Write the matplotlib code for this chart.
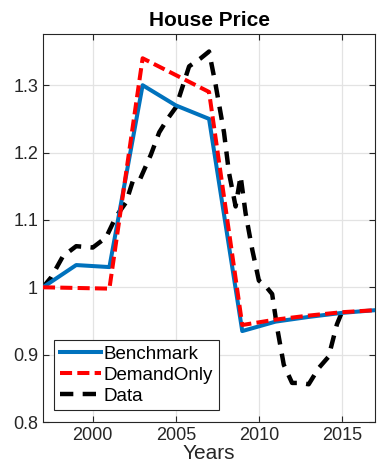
import matplotlib
matplotlib.use("Agg")
import matplotlib.pyplot as plt

plt.rcParams['font.family'] = ['Liberation Sans', 'DejaVu Sans']

model_years = [1997, 1999, 2001, 2003, 2005, 2007, 2009, 2011, 2013, 2015, 2017]
benchmark = [1.000, 1.033, 1.030, 1.300, 1.270, 1.250, 0.935, 0.949, 0.956, 0.962, 0.966]
demand_only = [1.000, 0.999, 0.998, 1.340, 1.315, 1.290, 0.944, 0.952, 0.958, 0.963, 0.966]

data_years = [1997.0, 1997.5, 1998.2, 1999.0, 2000.0, 2000.8, 2001.4, 2002.0, 2002.4,
              2002.8, 2003.5, 2004.0, 2004.5, 2005.0, 2005.8, 2006.5, 2007.0, 2007.4,
              2007.9, 2008.2, 2008.6, 2008.9, 2009.2, 2009.6, 2010.0, 2010.4, 2010.8,
              2011.1, 2011.5, 2012.0, 2012.5, 2013.0, 2013.6, 2014.2, 2014.7, 2015.0]
data_vals = [1.000, 1.015, 1.046, 1.061, 1.059, 1.074, 1.105, 1.126, 1.157,
             1.158, 1.197, 1.230, 1.250, 1.267, 1.328, 1.340, 1.350, 1.300,
             1.230, 1.170, 1.120, 1.165, 1.110, 1.056, 1.010, 1.002, 0.990,
             0.940, 0.885, 0.858, 0.858, 0.856, 0.880, 0.897, 0.945, 0.963]

xticks = [2000, 2005, 2010, 2015]
yticks = [0.8, 0.9, 1.0, 1.1, 1.2, 1.3]
ytick_labels = ['0.8', '0.9', '1', '1.1', '1.2', '1.3']

fig = plt.figure(figsize=(3.77, 4.69), dpi=100)
ax = fig.add_axes([0.114, 0.1002, 0.881, 0.8273])

ax.plot(model_years, benchmark, color='#0072BD', lw=2.9, label='Benchmark', zorder=3)
l2, = ax.plot(model_years, demand_only, color='#FF0000', lw=2.9, label='DemandOnly', zorder=4)
l2.set_dashes((3.0, 1.3))
l3, = ax.plot(data_years, data_vals, color='black', lw=3.2, label='Data', zorder=2)
l3.set_dashes((3.0, 2.1))

ax.set_xlim(1997, 2017)
ax.set_ylim(0.8, 1.376)
ax.set_xticks(xticks)
ax.set_yticks(yticks)
ax.set_yticklabels(ytick_labels)
ax.grid(True, color='#e3e3e3', lw=0.9)
ax.set_axisbelow(True)
ax.tick_params(direction='in', top=True, right=True, labelsize=13, colors='#262626', length=4)
for s in ax.spines.values():
    s.set_color('#262626')
    s.set_linewidth(0.8)

ax.set_title('House Price', fontsize=15, fontweight='bold', pad=6)
ax.set_xlabel('Years', fontsize=15, color='#262626', labelpad=0)

leg = ax.legend(loc='lower left', bbox_to_anchor=(0.033, 0.03), fontsize=13.5,
                handlelength=2.2, handletextpad=0.15, borderpad=0.3, labelspacing=0.2,
                borderaxespad=0, fancybox=False, framealpha=1, edgecolor='#262626')
leg.get_frame().set_linewidth(0.8)

fig.savefig('out.png', dpi=100)
